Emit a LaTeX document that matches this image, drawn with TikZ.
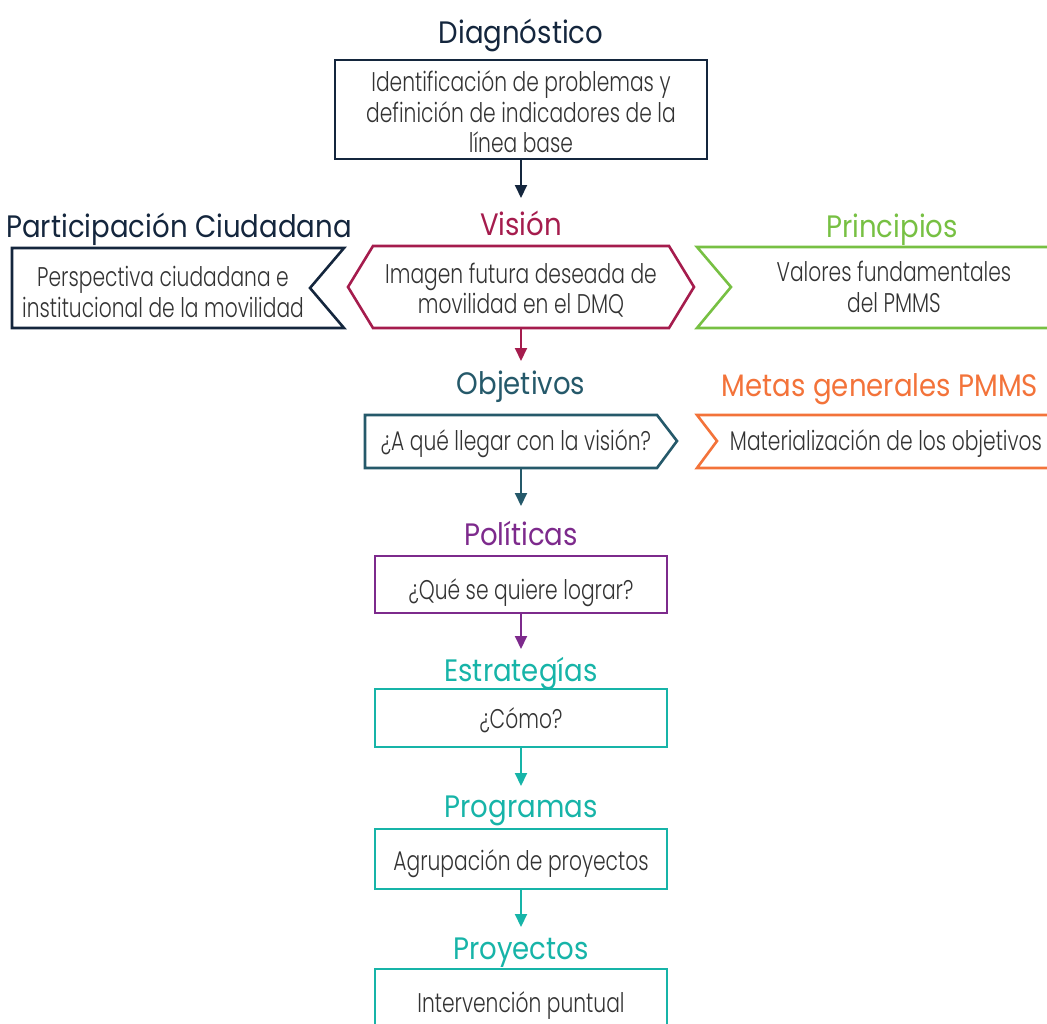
\documentclass[tikz,border=0pt]{standalone}
\usepackage{fontspec}
\setmainfont{Poppins}
\newfontfamily\titlef{Poppins}[FakeStretch=0.89]
\newfontfamily\bodyf{Poppins Light}[FakeStretch=0.75]
\usetikzlibrary{arrows.meta}
\definecolor{cnavy}{HTML}{14263D}
\definecolor{ccrim}{HTML}{A51C4D}
\definecolor{cgreen}{HTML}{77C043}
\definecolor{cdteal}{HTML}{25596A}
\definecolor{corange}{HTML}{F3733A}
\definecolor{cpurple}{HTML}{7D2A8C}
\definecolor{cteal}{HTML}{17B4A8}
\definecolor{ctext}{HTML}{333333}
\begin{document}
\begin{tikzpicture}[x=1pt,y=-1pt,
  ttl/.style={font=\titlef\fontsize{31}{36}\selectfont, inner sep=0pt, anchor=base},
  bod/.style={font=\bodyf\fontsize{27}{30.5}\selectfont, text=ctext, align=center, inner sep=0pt},
  frame/.style={line width=2.6pt, line join=miter},
  arr/.style={line width=2pt, -{Triangle[length=13pt,width=12pt]}}]
\useasboundingbox (0,0) rectangle (1047,1023);
\clip (0,0) rectangle (1047,1023);

% Diagnostico
\node[ttl, text=cnavy] (tDiag) at (521,43) {Diagnóstico};
\draw[frame, draw=cnavy] (335,60) rectangle (707,159);
\coordinate (diagS) at (521,159);
\node[bod] (bDiag) at (521,112) {Identificación de problemas y\\definición de indicadores de la\\línea base};

% Vision
\coordinate (visIn) at (521,198);
\node[ttl, text=ccrim] (tVis) at (521,235) {Visión};
\draw[frame, draw=ccrim] (348,287) -- (373,246) -- (669,246) -- (694,287) -- (669,328) -- (373,328) -- cycle;
\node[bod] (bVis) at (521,290) {Imagen futura deseada de\\movilidad en el DMQ};
\coordinate (visS) at (521,328);

% Participacion
\node[ttl, text=cnavy] (tPart) at (179,237) {Participación Ciudadana};
\draw[frame, draw=cnavy] (12,248) -- (344,248) -- (310,288) -- (344,328) -- (12,328) -- cycle;
\node[bod] (bPart) at (163,292) {Perspectiva ciudadana e\\institucional de la movilidad};

% Principios
\node[ttl, text=cgreen] (tPrin) at (892,237) {Principios};
\draw[frame, draw=cgreen] (1060,247) -- (697,247) -- (731,287) -- (697,328) -- (1060,328);
\node[bod] (bPrin) at (894,287) {Valores fundamentales\\del PMMS};

% Objetivos
\coordinate (objIn) at (521,361);
\node[ttl, text=cdteal] (tObj) at (521,394) {Objetivos};
\draw[frame, draw=cdteal] (365,415) -- (657,415) -- (677,441) -- (657,468) -- (365,468) -- cycle;
\node[bod] (bObj) at (516,444) {¿A qué llegar con la visión?};
\coordinate (objS) at (521,468);

% Metas
\node[ttl, text=corange] (tMet) at (880,396) {Metas generales PMMS};
\draw[frame, draw=corange] (1060,415) -- (697,415) -- (717,441) -- (697,468) -- (1060,468);
\node[bod] (bMet) at (886,444) {Materialización de los objetivos};

% Politicas
\coordinate (polIn) at (521,506);
\node[ttl, text=cpurple] (tPol) at (521,545) {Políticas};
\draw[frame, draw=cpurple] (375,556) rectangle (667,613);
\node[bod] (bPol) at (521,593) {¿Qué se quiere lograr?};
\coordinate (polS) at (521,613);

% Estrategias
\coordinate (estIn) at (521,649);
\node[ttl, text=cteal] (tEst) at (521,681) {Estrategías};
\draw[frame, draw=cteal] (375,689) rectangle (667,747);
\node[bod] (bEst) at (521,720) {¿Cómo?};
\coordinate (estS) at (521,747);

% Programas
\coordinate (proIn) at (521,786);
\node[ttl, text=cteal] (tPro) at (521,817) {Programas};
\draw[frame, draw=cteal] (375,829) rectangle (667,889);
\node[bod] (bPro) at (521,864) {Agrupación de proyectos};
\coordinate (proS) at (521,889);

% Proyectos
\coordinate (pyIn) at (521,927);
\node[ttl, text=cteal] (tPy) at (521,959) {Proyectos};
\draw[frame, draw=cteal] (375,969) rectangle (667,1040);
\node[bod] (bPy) at (521,1006) {Intervención puntual};

% arrows
\draw[arr, cnavy] (diagS) -- (visIn);
\draw[arr, ccrim] (visS) -- (objIn);
\draw[arr, cdteal] (objS) -- (polIn);
\draw[arr, cpurple] (polS) -- (estIn);
\draw[arr, cteal] (estS) -- (proIn);
\draw[arr, cteal] (proS) -- (pyIn);
\end{tikzpicture}
\end{document}
